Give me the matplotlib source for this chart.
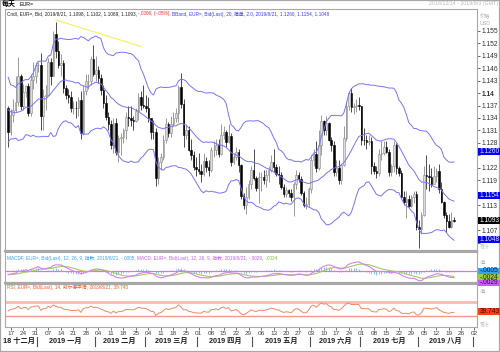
import numpy as np
import pandas as pd
import matplotlib
matplotlib.use('Agg')
import matplotlib.pyplot as plt
from matplotlib.lines import Line2D
from matplotlib.patches import Rectangle

plt.rcParams['font.family'] = ['Liberation Sans', 'Noto Sans CJK SC']

# ---------------- data ----------------
start_date = '2018-12-14'
end_date = '2019-08-21'
first_open = 1.1363

close = [
    1.1306,
    1.1346, 1.1360, 1.1379, 1.1440, 1.1370,
    1.1403, 1.1418, 1.1352, 1.1432, 1.1441,
    1.1467, 1.1468, 1.1345, 1.1392, 1.1395,
    1.1475, 1.1440, 1.1543, 1.1500, 1.1468,
    1.1473, 1.1413, 1.1395, 1.1390, 1.1363,
    1.1365, 1.1363, 1.1384, 1.1303, 1.1405,
    1.1428, 1.1430, 1.1483, 1.1447, 1.1455,
    1.1437, 1.1407, 1.1376, 1.1343, 1.1326,
    1.1275, 1.1327, 1.1259, 1.1293, 1.1295,
    1.1310, 1.1343, 1.1340, 1.1335, 1.1333,
    1.1358, 1.1390, 1.1372, 1.1370, 1.1364,
    1.1339, 1.1307, 1.1306, 1.1195, 1.1234,
    1.1246, 1.1288, 1.1326, 1.1305, 1.1325,
    1.1340, 1.1352, 1.1415, 1.1374, 1.1300,
    1.1312, 1.1264, 1.1250, 1.1223, 1.1217,
    1.1213, 1.1205, 1.1236, 1.1223, 1.1216,
    1.1262, 1.1262, 1.1275, 1.1254, 1.1299,
    1.1306, 1.1283, 1.1296, 1.1233, 1.1246,
    1.1258, 1.1226, 1.1153, 1.1131, 1.1150,
    1.1182, 1.1215, 1.1195, 1.1172, 1.1198,
    1.1199, 1.1190, 1.1203, 1.1214, 1.1233,
    1.1223, 1.1206, 1.1202, 1.1175, 1.1158,
    1.1166, 1.1160, 1.1150, 1.1180, 1.1203,
    1.1193, 1.1160, 1.1130, 1.1132, 1.1169,
    1.1240, 1.1253, 1.1220, 1.1275, 1.1333,
    1.1312, 1.1327, 1.1288, 1.1275, 1.1210,
    1.1220, 1.1192, 1.1228, 1.1293, 1.1368,
    1.1399, 1.1366, 1.1369, 1.1372, 1.1370,
    1.1288, 1.1287, 1.1283, 1.1285, 1.1225,
    1.1212, 1.1207, 1.1253, 1.1256, 1.1270,
    1.1259, 1.1211, 1.1225, 1.1275, 1.1219,
    1.1208, 1.1151, 1.1138, 1.1144, 1.1128,
    1.1150, 1.1157, 1.1078, 1.1072, 1.1107,
    1.1203, 1.1200, 1.1198, 1.1180, 1.1201,
    1.1213, 1.1168, 1.1138, 1.1106, 1.1091,
    1.1078, 1.1094, 1.1093,
]

high = [
    1.1370,
    1.1362, 1.1385, 1.1440, 1.1486, 1.1445,
    1.1421, 1.1420, 1.1425, 1.1445, 1.1475,
    1.1475, 1.1475, 1.1497, 1.1410, 1.1420,
    1.1485, 1.1485, 1.1550, 1.1570, 1.1525,
    1.1495, 1.1480, 1.1420, 1.1410, 1.1405,
    1.1380, 1.1380, 1.1390, 1.1405, 1.1420,
    1.1445, 1.1445, 1.1490, 1.1515, 1.1490,
    1.1465, 1.1445, 1.1420, 1.1395, 1.1355,
    1.1335, 1.1340, 1.1340, 1.1300, 1.1305,
    1.1315, 1.1355, 1.1370, 1.1370, 1.1345,
    1.1365, 1.1400, 1.1405, 1.1420, 1.1395,
    1.1390, 1.1340, 1.1335, 1.1315, 1.1245,
    1.1255, 1.1300, 1.1340, 1.1330, 1.1345,
    1.1355, 1.1365, 1.1420, 1.1448, 1.1385,
    1.1325, 1.1320, 1.1290, 1.1260, 1.1245,
    1.1255, 1.1230, 1.1255, 1.1245, 1.1240,
    1.1270, 1.1285, 1.1290, 1.1290, 1.1325,
    1.1320, 1.1310, 1.1325, 1.1305, 1.1255,
    1.1270, 1.1265, 1.1230, 1.1160, 1.1175,
    1.1190, 1.1225, 1.1265, 1.1200, 1.1210,
    1.1210, 1.1215, 1.1215, 1.1225, 1.1250,
    1.1265, 1.1230, 1.1225, 1.1210, 1.1180,
    1.1175, 1.1170, 1.1170, 1.1185, 1.1215,
    1.1210, 1.1200, 1.1165, 1.1150, 1.1175,
    1.1250, 1.1265, 1.1285, 1.1310, 1.1348,
    1.1335, 1.1345, 1.1330, 1.1295, 1.1285,
    1.1240, 1.1240, 1.1230, 1.1320, 1.1380,
    1.1405, 1.1412, 1.1375, 1.1385, 1.1390,
    1.1370, 1.1315, 1.1300, 1.1300, 1.1295,
    1.1235, 1.1225, 1.1265, 1.1285, 1.1285,
    1.1285, 1.1265, 1.1230, 1.1285, 1.1280,
    1.1225, 1.1215, 1.1165, 1.1165, 1.1155,
    1.1155, 1.1165, 1.1165, 1.1095, 1.1115,
    1.1225, 1.1250, 1.1230, 1.1220, 1.1225,
    1.1220, 1.1230, 1.1185, 1.1140, 1.1115,
    1.1110, 1.1115, 1.1102,
]

low = [
    1.1269,
    1.1299, 1.1330, 1.1355, 1.1370, 1.1360,
    1.1360, 1.1390, 1.1345, 1.1345, 1.1410,
    1.1425, 1.1450, 1.1310, 1.1310, 1.1360,
    1.1395, 1.1420, 1.1440, 1.1485, 1.1460,
    1.1440, 1.1400, 1.1385, 1.1375, 1.1355,
    1.1350, 1.1340, 1.1345, 1.1290, 1.1300,
    1.1395, 1.1410, 1.1420, 1.1440, 1.1430,
    1.1425, 1.1395, 1.1365, 1.1335, 1.1310,
    1.1265, 1.1255, 1.1250, 1.1235, 1.1250,
    1.1280, 1.1290, 1.1320, 1.1320, 1.1310,
    1.1330, 1.1335, 1.1360, 1.1365, 1.1355,
    1.1330, 1.1290, 1.1290, 1.1176, 1.1180,
    1.1215, 1.1240, 1.1280, 1.1295, 1.1295,
    1.1320, 1.1330, 1.1330, 1.1365, 1.1270,
    1.1290, 1.1260, 1.1240, 1.1215, 1.1200,
    1.1205, 1.1185, 1.1200, 1.1210, 1.1200,
    1.1210, 1.1245, 1.1250, 1.1245, 1.1250,
    1.1290, 1.1270, 1.1280, 1.1225, 1.1230,
    1.1240, 1.1210, 1.1145, 1.1120, 1.1110,
    1.1145, 1.1170, 1.1190, 1.1165, 1.1135,
    1.1165, 1.1180, 1.1175, 1.1185, 1.1210,
    1.1210, 1.1200, 1.1180, 1.1170, 1.1150,
    1.1150, 1.1150, 1.1140, 1.1105, 1.1170,
    1.1185, 1.1155, 1.1125, 1.1120, 1.1125,
    1.1160, 1.1225, 1.1210, 1.1215, 1.1250,
    1.1300, 1.1300, 1.1285, 1.1260, 1.1200,
    1.1200, 1.1180, 1.1180, 1.1225, 1.1285,
    1.1360, 1.1355, 1.1350, 1.1355, 1.1360,
    1.1275, 1.1275, 1.1265, 1.1275, 1.1205,
    1.1205, 1.1195, 1.1200, 1.1240, 1.1250,
    1.1255, 1.1200, 1.1200, 1.1210, 1.1205,
    1.1200, 1.1150, 1.1130, 1.1100, 1.1125,
    1.1125, 1.1135, 1.1070, 1.1027, 1.1060,
    1.1105, 1.1170, 1.1165, 1.1175, 1.1180,
    1.1185, 1.1160, 1.1135, 1.1100, 1.1065,
    1.1075, 1.1075, 1.1089,
]

# closes before the visible window (used only to seed the indicators)
warmup_close = [
    1.1580, 1.1575, 1.1500, 1.1451, 1.1513,
    1.1464, 1.1469, 1.1392, 1.1372, 1.1403,
    1.1384, 1.1347, 1.1312, 1.1409, 1.1388,
    1.1406, 1.1429, 1.1430, 1.1363, 1.1335,
    1.1222, 1.1289, 1.1312, 1.1330, 1.1417,
    1.1455, 1.1374, 1.1407, 1.1403, 1.1338,
    1.1326, 1.1289, 1.1370, 1.1392, 1.1317,
    1.1352, 1.1344, 1.1342, 1.1375, 1.1404,
    1.1355, 1.1319, 1.1369, 1.1364,
]

price_ticks = [1.155, 1.152, 1.149, 1.146, 1.143, 1.140, 1.137, 1.134, 1.131,
               1.128, 1.125, 1.122, 1.119, 1.116, 1.113, 1.110, 1.107, 1.104]
price_tick_labels = ['1.155', '1.152', '1.149', '1.146', '1.143', '1.14', '1.137',
                     '1.134', '1.131', '1.128', '', '1.122', '1.119', '',
                     '1.113', '', '1.107', '']
month_labels = ['2019 一月', '2019 二月', '2019 三月', '2019 四月',
                '2019 五月', '2019 六月', '2019 七月', '2019 八月']
trend_dates = ['2019-01-10', '2019-02-27']
trend_prices = [1.1576, 1.1512]
bb_values = [1.1260, 1.1154, 1.1048]
bb_labels = ['1.1260', '1.1154', '1.1048']
last_value = 1.1093
last_label = '1.1093'

# ---------------- indicators ----------------
dates = pd.bdate_range(start_date, end_date)
n = len(dates)
c = np.array(close)
h = np.array(high)
l = np.array(low)
o = np.r_[first_open, c[:-1]]
xi = np.arange(n)

s = pd.Series(list(warmup_close) + list(close))
mid = s.rolling(20).mean()
sd = s.rolling(20).std(ddof=0)
upper = (mid + 2 * sd).values[-n:]
lower = (mid - 2 * sd).values[-n:]
mid = mid.values[-n:]
ema12 = s.ewm(span=12, adjust=False).mean()
ema26 = s.ewm(span=26, adjust=False).mean()
macd = ema12 - ema26
signal = macd.ewm(span=9, adjust=False).mean()
hist = (macd - signal).values[-n:]
macd = macd.values[-n:]
signal = signal.values[-n:]
d = s.diff()
ag = d.clip(lower=0).ewm(alpha=1 / 14, adjust=False).mean()
al = (-d.clip(upper=0)).ewm(alpha=1 / 14, adjust=False).mean()
rsi = (100 - 100 / (1 + ag / al)).values[-n:]

# ---------------- layout ----------------
W, H = 500, 352
fig = plt.figure(figsize=(W / 100, H / 100), dpi=100)
fig.patch.set_facecolor('white')

X0, X1 = -1.28, 187.2
PX_L, PX_R = 5, 477


def axes_px(x0, y0, x1, y1):
    return fig.add_axes([x0 / W, 1 - y1 / H, (x1 - x0) / W, (y1 - y0) / H])


def xpx(i):
    return PX_L + (i - X0) / (X1 - X0) * (PX_R - PX_L)


ax = axes_px(PX_L, 9, PX_R, 251)
axm = axes_px(PX_L, 252, PX_R, 283)
axr = axes_px(PX_L, 284, PX_R, 327)

for a in (ax, axm, axr):
    a.set_xlim(X0, X1)
    a.set_facecolor('white')
    for sp in a.spines.values():
        sp.set_color('#a8a8a8')
        sp.set_linewidth(0.8)
    a.tick_params(axis='x', bottom=False, labelbottom=False)
ax.spines['bottom'].set_linewidth(1.6)
axm.spines['bottom'].set_linewidth(1.6)

# ---------------- price panel ----------------
YB, YT = 1.1020, 1.16022
ax.set_ylim(YB, YT)
up = c >= o
dn = ~up
body_h = np.maximum(np.abs(c - o), 0.00006)
body_b = np.minimum(o, c)
ax.vlines(xi[up], l[up], h[up], color='#8a8a8a', lw=0.6, zorder=2)
ax.vlines(xi[dn], l[dn], h[dn], color='#303030', lw=0.6, zorder=2)
ax.bar(xi[up], body_h[up], bottom=body_b[up], width=0.62, color='#dcdcdc',
       edgecolor='#8a8a8a', linewidth=0.4, zorder=3)
ax.bar(xi[dn], body_h[dn], bottom=body_b[dn], width=0.62, color='#000000',
       edgecolor='#000000', linewidth=0.4, zorder=3)
for band in (upper, mid, lower):
    ax.plot(xi, band, color='#7474ff', lw=0.7, zorder=4)
t_idx = [np.busday_count(np.datetime64(start_date), np.datetime64(td)) for td in trend_dates]
ax.plot(t_idx, trend_prices, color='#f4f060', lw=0.8, zorder=4)

ax.yaxis.tick_right()
ax.set_yticks(price_ticks)
ax.set_yticklabels(price_tick_labels)
ax.tick_params(axis='y', length=2, width=0.5, pad=1.2, labelsize=4.8,
               colors='#303030')
for lb in ax.get_yticklabels():
    if lb.get_text() == '1.14':
        lb.set_fontweight('bold')

axm.set_yticks([])
axr.set_yticks([])

# ---------------- MACD panel ----------------
k = 0.00045
axm.set_ylim(-12 * k, 19 * k)
axm.vlines(xi, 0, hist, color='#6cbcf4', lw=0.6, zorder=2)
axm.axhline(0, color='#e070e8', lw=0.9, zorder=3)
axm.plot(xi, signal, color='#a0cc60', lw=0.8, zorder=4)
axm.plot(xi, macd, color='#d680f2', lw=0.8, zorder=5)

# ---------------- RSI panel ----------------
axr.set_ylim(-2.3, 120.6)
axr.axhline(70, color='#f8bcae', lw=2.0, zorder=2)
axr.axhline(30, color='#f29a88', lw=1.0, zorder=2)
axr.plot(xi, rsi, color='#f08868', lw=0.7, zorder=3)

# ---------------- date axis ----------------
wk = pd.date_range('2018-12-17', '2019-09-02', freq='W-MON')
wk_idx = np.busday_count(np.datetime64(start_date), wk.values.astype('datetime64[D]'))
axr.set_xticks(wk_idx)
axr.set_xticklabels(wk.strftime('%d'))
axr.tick_params(axis='x', bottom=True, labelbottom=True, length=2, width=0.5,
                pad=1.0, labelsize=4.6, colors='#404040')

ms = pd.date_range('2019-01-01', '2019-09-01', freq='MS')
m_idx = np.busday_count(np.datetime64(start_date), ms.values.astype('datetime64[D]')) - 0.5
for mi in m_idx:
    xp = xpx(mi)
    fig.add_artist(Line2D([xp / W, xp / W], [1 - 337 / H, 1 - 346 / H],
                          color='#505050', lw=0.8))
for j, lab in enumerate(month_labels):
    xc = (xpx(m_idx[j]) + xpx(m_idx[j + 1])) / 2
    fig.text(xc / W, 1 - 341.5 / H, lab, ha='center', va='center',
             fontsize=5.2, color='#202020', fontweight='bold')
fig.text(3 / W, 1 - 341.5 / H, '18 十二月', ha='left', va='center',
         fontsize=5.2, color='#202020', fontweight='bold')

# ---------------- texts ----------------
renderer = fig.canvas.get_renderer()


def run(x_px, y_px, pieces, size):
    x = x_px
    for txt, col in pieces:
        t = fig.text(x / W, 1 - y_px / H, txt, color=col, fontsize=size,
                     ha='left', va='center')
        x += t.get_window_extent(renderer).width


run(7, 14, [('Cndl, EUR=, Bid, 2019/8/21, 1.1098, 1.1102, 1.1089, 1.1093, ', '#202020'),
            ('-.0006, (-.05%), ', '#ff2a2a'),
            ('BBand, EUR=, Bid(Last), 20, 简单, 2.0, 2019/8/21, 1.1260, 1.1154, 1.1048', '#3a3aff')],
    3.4)
run(7, 258, [('MACDF, EUR=, Bid(Last), 12, 26, 9, 指数, 2019/8/21, -.0005, ', '#3aa0ee'),
             ('MACD, EUR=, Bid(Last), 12, 26, 9, 指数, 2019/8/21, -.0029, ', '#c060ee'),
             ('-.0024', '#88bb44')], 3.4)
run(7, 287, [('RSI, EUR=, Bid(Last), 14, 威尔德平滑, 2019/8/21, 39.743', '#ff5522')], 3.4)

fig.text(2 / W, 1 - 4 / H, '每天', fontsize=5, fontweight='bold', color='#000000',
         ha='left', va='center')
fig.text(20 / W, 1 - 4 / H, 'EUR=', fontsize=3.8, color='#000000', ha='left', va='center')
fig.text(498 / W, 1 - 4 / H, '2018/12/14 - 2019/9/3 (GMT)', fontsize=3.8,
         color='#b8b8b8', ha='right', va='center')
for txt, yy in (('价格', 16), ('USD', 23.5)):
    fig.text(480 / W, 1 - yy / H, txt, fontsize=3.8, color='#b0b0b0', ha='left', va='center')
fig.text(480 / W, 1 - 247 / H, '看法', fontsize=3.5, color='#c8c8c8', ha='left', va='center')
fig.text(480 / W, 1 - 263 / H, '值', fontsize=3.8, color='#b0b0b0', ha='left', va='center')
fig.text(480 / W, 1 - 291.5 / H, '值', fontsize=3.8, color='#b0b0b0', ha='left', va='center')
fig.text(480 / W, 1 - 325 / H, '看法', fontsize=3.5, color='#c8c8c8', ha='left', va='center')


def vbox(y_px, txt, bg, fg):
    fig.add_artist(Rectangle((478 / W, 1 - (y_px + 3.3) / H), 22 / W, 6.6 / H,
                             transform=fig.transFigure, fc=bg, ec='none', zorder=10))
    fig.text(480 / W, 1 - y_px / H, txt, fontsize=4.8, color=fg, ha='left',
             va='center', zorder=11)


def py_main(v):
    return 9 + (YT - v) / (YT - YB) * 242


for v, lab in zip(bb_values, bb_labels):
    vbox(py_main(v), lab, '#0000ff', '#e0e0ff')
vbox(py_main(last_value), last_label, '#000000', '#ffffff')
vbox(271, '-.0005', '#36a2f0', '#102030')
vbox(277.3, '-.0024', '#9ccc3c', '#203010')
vbox(283, '-.0029', '#c65ff0', '#301040')
vbox(311.7, '39.743', '#ff4010', '#301000')

fig.add_artist(Rectangle((0, 0), 1, 1, transform=fig.transFigure, fill=False,
                         ec='#a8a8a8', lw=1.6))

fig.savefig('out.png', dpi=100, facecolor='white')
